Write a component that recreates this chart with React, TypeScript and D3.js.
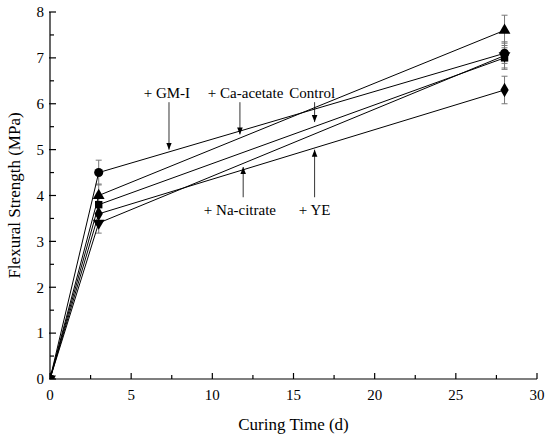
import * as d3 from 'd3';
import { useRef, useEffect } from 'react';

const days = [0, 3, 28];
const gmI = [0, 4.5, 7.1];
const caAcetate = [0, 4.0, 7.6];
const control = [0, 3.8, 7.0];
const ye = [0, 3.6, 6.3];
const naCitrate = [0, 3.4, 7.05];
const gmIErr = [0, 0.27, 0.22];
const caAcetateErr = [0, 0.25, 0.33];
const controlErr = [0, 0.2, 0.22];
const yeErr = [0, 0.2, 0.3];
const naCitrateErr = [0, 0.22, 0.3];
const xTicks = [0, 5, 10, 15, 20, 25, 30];
const yTicks = [0, 1, 2, 3, 4, 5, 6, 7, 8];

// label text, arrow x (days), arrow tip value, label position in data units
const notes = [
    { text: '+ GM-I', x: 7.33, tip: 5.0, lx: 7.2, ly: 6.23, up: false },
    { text: '+ Ca-acetate', x: 11.7, tip: 5.33, lx: 12.05, ly: 6.23, up: false },
    { text: 'Control', x: 16.3, tip: 5.6, lx: 16.15, ly: 6.23, up: false },
    { text: '+ Na-citrate', x: 11.9, tip: 4.62, lx: 11.7, ly: 3.7, up: true },
    { text: '+ YE', x: 16.3, tip: 5.0, lx: 16.3, ly: 3.7, up: true },
];

export default function App() {
    const svgRef = useRef<SVGSVGElement>(null);

    useEffect(() => {
        if (!svgRef.current) return;
        const W = 550, H = 436;
        const margin = { top: 12, right: 13, bottom: 57, left: 50 };
        const width = W - margin.left - margin.right;
        const height = H - margin.top - margin.bottom;
        const font = '"Liberation Serif", "Times New Roman", serif';

        const root = d3.select(svgRef.current);
        root.selectAll('*').remove();
        root.attr('width', W).attr('height', H);

        const defs = root.append('defs');
        defs.append('clipPath').attr('id', 'plotClip')
            .append('rect').attr('width', width).attr('height', height);
        defs.append('marker')
            .attr('id', 'arrowHead')
            .attr('viewBox', '0 0 10 10')
            .attr('refX', 10).attr('refY', 5)
            .attr('markerWidth', 7).attr('markerHeight', 7)
            .attr('markerUnits', 'userSpaceOnUse')
            .attr('orient', 'auto')
            .append('path').attr('d', 'M0,1 L10,5 L0,9 Z').attr('fill', '#000');

        const svg = root.append('g')
            .attr('transform', `translate(${margin.left},${margin.top})`);

        const x = d3.scaleLinear().domain([0, 30]).range([0, width]);
        const y = d3.scaleLinear().domain([0, 8]).range([height, 0]);

        const series = [
            { vals: gmI, err: gmIErr, sym: d3.symbolCircle, size: 64 },
            { vals: caAcetate, err: caAcetateErr, sym: d3.symbolTriangle, size: 60 },
            { vals: control, err: controlErr, sym: d3.symbolSquare, size: 55 },
            { vals: ye, err: yeErr, sym: d3.symbolDiamond, size: 60 },
            { vals: naCitrate, err: naCitrateErr, sym: d3.symbolTriangle, size: 60, flip: true },
        ];

        const plot = svg.append('g').attr('clip-path', 'url(#plotClip)');

        // Error bars
        series.forEach(s => {
            s.vals.forEach((v, i) => {
                if (!s.err[i]) return;
                const g = plot.append('g').attr('stroke', '#777').attr('stroke-width', 1);
                const cx = x(days[i]);
                g.append('line').attr('x1', cx).attr('x2', cx)
                    .attr('y1', y(v - s.err[i])).attr('y2', y(v + s.err[i]));
                [v - s.err[i], v + s.err[i]].forEach(e => {
                    g.append('line').attr('x1', cx - 3).attr('x2', cx + 3)
                        .attr('y1', y(e)).attr('y2', y(e));
                });
            });
        });

        // Lines
        const line = d3.line<number>().x((_, i) => x(days[i])).y(d => y(d));
        series.forEach(s => {
            plot.append('path').datum(s.vals)
                .attr('d', line)
                .attr('fill', 'none')
                .attr('stroke', '#000')
                .attr('stroke-width', 1);
        });

        // Markers
        series.forEach(s => {
            const sym = d3.symbol().type(s.sym).size(s.size);
            plot.selectAll(null).data(s.vals).enter().append('path')
                .attr('d', sym)
                .attr('transform', (d, i) =>
                    `translate(${x(days[i])},${y(d)})${s.flip ? ' rotate(180)' : ''}`)
                .attr('fill', '#000');
        });

        // Axes
        const axes = svg.append('g').attr('stroke', '#000').attr('stroke-width', 1.2);
        axes.append('line').attr('x1', 0).attr('x2', 0).attr('y1', 0).attr('y2', height);
        axes.append('line').attr('x1', 0).attr('x2', width).attr('y1', height).attr('y2', height);
        d3.range(0, 8.01, 0.5).forEach(t => {
            const major = Number.isInteger(t);
            axes.append('line').attr('x1', major ? -1 : 0).attr('x2', major ? 6 : 4)
                .attr('y1', y(t)).attr('y2', y(t));
        });
        d3.range(0, 30.01, 2.5).forEach(t => {
            const major = t % 5 === 0;
            axes.append('line').attr('x1', x(t)).attr('x2', x(t))
                .attr('y1', height).attr('y2', height - (major ? 6 : 4));
        });

        svg.append('g').selectAll('text').data(yTicks).enter().append('text')
            .attr('x', -6).attr('y', d => y(d)).attr('dy', '0.35em')
            .attr('text-anchor', 'end')
            .attr('font-family', font).attr('font-size', 15)
            .text(d => d);
        svg.append('g').selectAll('text').data(xTicks).enter().append('text')
            .attr('x', d => x(d)).attr('y', height + 21)
            .attr('text-anchor', 'middle')
            .attr('font-family', font).attr('font-size', 15)
            .text(d => d);

        svg.append('text')
            .attr('x', width / 2).attr('y', height + 51)
            .attr('text-anchor', 'middle')
            .attr('font-family', font).attr('font-size', 17)
            .text('Curing Time (d)');
        svg.append('text')
            .attr('transform', `translate(${-30},${height / 2}) rotate(-90)`)
            .attr('text-anchor', 'middle')
            .attr('font-family', font).attr('font-size', 17)
            .text('Flexural Strength (MPa)');

        // Annotations with arrows
        notes.forEach(n => {
            const startY = n.up ? y(n.ly) - 12 : y(n.ly) + 9;
            svg.append('line')
                .attr('x1', x(n.x)).attr('x2', x(n.x))
                .attr('y1', startY).attr('y2', y(n.tip))
                .attr('stroke', '#000').attr('stroke-width', 0.8)
                .attr('marker-end', 'url(#arrowHead)');
            svg.append('text')
                .attr('x', x(n.lx)).attr('y', y(n.ly))
                .attr('dy', '0.35em')
                .attr('text-anchor', 'middle')
                .attr('font-family', font).attr('font-size', 15)
                .text(n.text);
        });
    }, []);

    return <svg ref={svgRef} style={{ position: 'absolute', left: 0, top: 0, background: '#fff' }} />;
}
